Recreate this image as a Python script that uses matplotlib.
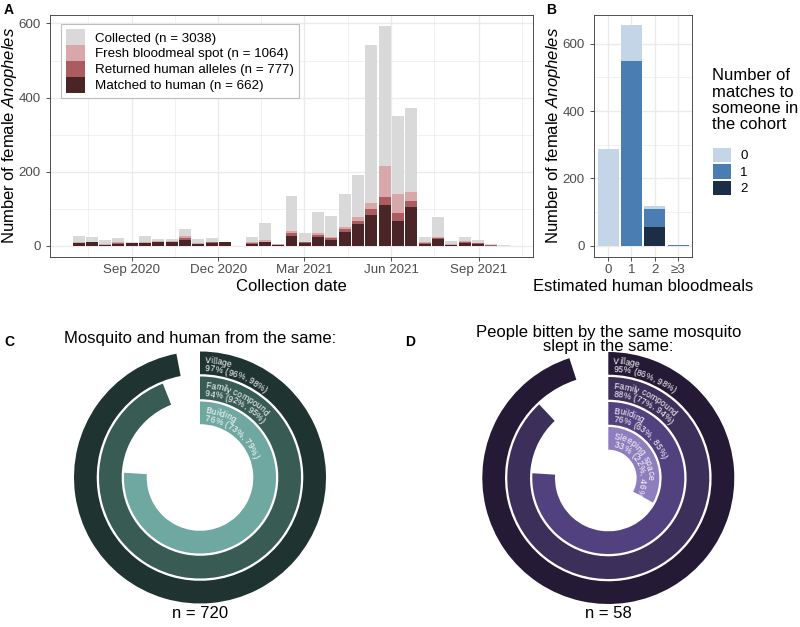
import numpy as np
import pandas as pd
import matplotlib
matplotlib.use("Agg")
import matplotlib.pyplot as plt
import matplotlib.dates as mdates
from matplotlib.patches import Patch, Wedge
from matplotlib.font_manager import FontProperties
from matplotlib.textpath import TextToPath

plt.rcParams['font.family'] = ['Liberation Sans', 'DejaVu Sans']
plt.rcParams['mathtext.fontset'] = 'custom'
plt.rcParams['mathtext.rm'] = 'Liberation Sans'
plt.rcParams['mathtext.it'] = 'Liberation Sans:italic'

# ---------------- data ----------------
# Panel A: two-week collection bins
bin_dates = pd.date_range("2020-07-07", periods=33, freq="14D")
collected = [26, 24, 15, 22, 10, 26, 19, 19, 46, 18, 21, 10, 0, 24, 62, 5, 134, 34, 92, 81, 139, 190,
             541, 594, 349, 371, 24, 78, 13, 23, 16, 4, 2]
fresh_spot = [10, 11, 4, 9, 8, 10, 13, 12, 27, 7, 11, 10, 0, 9, 15, 4, 41, 11, 35, 24, 51, 78,
              114, 215, 140, 145, 10, 24, 4, 12, 8, 2, 0]
returned_alleles = [8, 10, 3, 7, 7, 8, 11, 10, 22, 5, 9, 9, 0, 7, 11, 2, 33, 9, 29, 20, 44, 67,
                    98, 131, 88, 120, 7, 22, 2, 10, 6, 1, 0]
matched_human = [7, 9, 2, 5, 6, 7, 10, 9, 16, 4, 8, 9, 0, 5, 9, 1, 25, 6, 24, 16, 37, 58,
                 84, 110, 68, 104, 5, 17, 1, 6, 4, 0, 0]
series_labels_A = ["Collected (n = 3038)", "Fresh bloodmeal spot (n = 1064)",
                   "Returned human alleles (n = 777)", "Matched to human (n = 662)"]
date_ticks = ["2020-09-01", "2020-12-01", "2021-03-01", "2021-06-01", "2021-09-01"]

# Panel B
bloodmeal_cats = ["0", "1", "2", "\u22653"]
matches_0 = [286, 105, 7, 0]
matches_1 = [0, 549, 54, 3]
matches_2 = [0, 0, 56, 0]
match_labels = ["0", "1", "2"]
legend_title_B = "Number of\nmatches to\nsomeone in\nthe cohort"

# Panel C
c_title = "Mosquito and human from the same:"
c_levels = ["Village", "Family compound", "Building"]
c_pct = [97, 94, 76]
c_ci = [(96, 98), (92, 95), (73, 79)]
c_n = 720

# Panel D
d_title = ["People bitten by the same mosquito", "slept in the same:"]
d_levels = ["Village", "Family compound", "Building", "Sleeping space"]
d_pct = [95, 88, 76, 33]
d_ci = [(86, 98), (77, 94), (63, 85), (22, 46)]
d_n = 58

# ---------------- styles ----------------
colA = ["#D9D9D9", "#D7A7AA", "#AA5C5F", "#4B2426"]
colB = ["#C3D5E7", "#4A7EB3", "#1C2E45"]
colC = ["#1F3430", "#385B54", "#6EA8A0"]
colD = ["#241A35", "#3C2F5A", "#52417F", "#8E7EBE"]
GRID = "#EBEBEB"
BORDER = "#333333"
TICKTXT = "#4D4D4D"

W, H = 800, 627
fig = plt.figure(figsize=(W / 100, H / 100), dpi=100)
fig.patch.set_facecolor("white")


def ax_px(left, top, right, bottom):
    return fig.add_axes([left / W, 1 - bottom / H, (right - left) / W, (bottom - top) / H])


def style_bw(ax):
    ax.set_facecolor("white")
    for s in ax.spines.values():
        s.set_color(BORDER)
        s.set_linewidth(0.6)
    ax.tick_params(axis="both", colors=BORDER, labelcolor=TICKTXT, labelsize=9.6,
                   length=2.75, width=0.6)
    ax.tick_params(axis="x", pad=2.4)
    ax.tick_params(axis="y", pad=4)
    ax.tick_params(which="minor", length=0)
    ax.grid(True, which="major", color=GRID, lw=1.0)
    ax.grid(True, which="minor", color=GRID, lw=0.5)
    ax.set_axisbelow(True)


# ---------------- Panel A ----------------
A_L, A_T, A_R, A_B = 50, 14.7, 533, 256.7
axA = ax_px(A_L, A_T, A_R, A_B)
style_bw(axA)
xdates = mdates.date2num(bin_dates)
bw = 12.6
for vals, c in zip([collected, fresh_spot, returned_alleles, matched_human], colA):
    axA.bar(xdates, vals, width=bw, color=c, linewidth=0)
axA.set_xlim(mdates.date2num(pd.Timestamp("2020-06-07")), mdates.date2num(pd.Timestamp("2021-10-28")))
axA.set_ylim(-29.7, 623.7)
axA.set_yticks([0, 200, 400, 600])
axA.set_yticks([100, 300, 500], minor=True)
tick_dn = mdates.date2num(pd.to_datetime(date_ticks))
axA.set_xticks(tick_dn)
axA.set_xticklabels([pd.Timestamp(d).strftime("%b %Y") for d in date_ticks])
minor_dates = pd.to_datetime(["2020-07-17", "2020-10-16", "2021-01-15", "2021-04-16", "2021-07-16", "2021-10-16"])
axA.set_xticks(mdates.date2num(minor_dates), minor=True)
axA.set_xlabel("Collection date", fontsize=12, labelpad=2)
axA.set_ylabel(r"Number of female $\mathit{Anopheles}$", fontsize=12)
axA.yaxis.set_label_coords((19 - A_L) / (A_R - A_L), 0.5)
handlesA = [Patch(facecolor=c, edgecolor="none") for c in colA]
legA = axA.legend(handlesA, series_labels_A, loc="upper left",
                  bbox_to_anchor=(61 / W, 1 - 24 / H), bbox_transform=fig.transFigure,
                  borderaxespad=0, fontsize=9.6, handlelength=1.39, handleheight=1.45,
                  labelspacing=0.0, handletextpad=0.73, borderpad=0.4, fancybox=False,
                  framealpha=1)
legA.get_frame().set_edgecolor("#BDBDBD")
legA.get_frame().set_linewidth(0.8)

# ---------------- Panel B ----------------
B_L, B_T, B_R, B_B = 594, 14.7, 692, 256.7
axB = ax_px(B_L, B_T, B_R, B_B)
style_bw(axB)
xb = np.arange(len(bloodmeal_cats))
m0 = np.array(matches_0); m1 = np.array(matches_1); m2 = np.array(matches_2)
axB.bar(xb, m2, width=0.9, color=colB[2], linewidth=0)
axB.bar(xb, m1, bottom=m2, width=0.9, color=colB[1], linewidth=0)
axB.bar(xb, m0, bottom=m2 + m1, width=0.9, color=colB[0], linewidth=0)
axB.set_xlim(-0.6, 3.6)
axB.set_ylim(-32.7, 686)
axB.set_xticks(xb)
axB.set_xticklabels(bloodmeal_cats)
axB.set_yticks([0, 200, 400, 600])
axB.set_yticks([100, 300, 500], minor=True)
axB.set_xlabel("Estimated human bloodmeals", fontsize=12, labelpad=2)
axB.set_ylabel(r"Number of female $\mathit{Anopheles}$", fontsize=12)
axB.yaxis.set_label_coords((563 - B_L) / (B_R - B_L), 0.5)
fig.text(711.5 / W, 1 - 68.5 / H, legend_title_B, fontsize=12, ha="left", va="top",
         linespacing=1.09)
handlesB = [Patch(facecolor=c, edgecolor="none") for c in colB]
legB = axB.legend(handlesB, match_labels, loc="upper left",
                  bbox_to_anchor=(712.7 / W, 1 - 147.7 / H),
                  bbox_transform=fig.transFigure, borderaxespad=0, borderpad=0, frameon=False,
                  fontsize=9.6, handlelength=1.35, handleheight=1.31,
                  labelspacing=0.13, handletextpad=0.7)

# ---------------- Panels C & D ----------------
ttp = TextToPath()
PX_PER_PT = 100 / 72


def curved_text(ax, s, cx, cy, r, start_arc, fs, color="white"):
    prop = FontProperties(family="Liberation Sans", size=fs)
    for i, ch in enumerate(s):
        if ch == " ":
            continue
        w_pre = ttp.get_text_width_height_descent(s[:i], prop, ismath=False)[0] * PX_PER_PT if i else 0
        w_ch = ttp.get_text_width_height_descent(ch, prop, ismath=False)[0] * PX_PER_PT
        arc = start_arc + w_pre + w_ch / 2
        a = arc / r
        x = cx + r * np.sin(a)
        y = cy + r * np.cos(a)
        ax.text(x, y, ch, fontproperties=prop, color=color, ha="center", va="baseline",
                rotation=-np.degrees(a), rotation_mode="anchor")


def ring_panel(ax, cx, cy, levels, pct, ci, cols, R=126, unit=25, gap=2.3, fs=6.2):
    for j, (lev, p, (lo, hi), c) in enumerate(zip(levels, pct, ci, cols)):
        r_out = R - j * unit
        ax.add_patch(Wedge((cx, cy), r_out, 90 - p * 3.6, 90, width=unit - gap,
                           facecolor=c, edgecolor="none"))
        curved_text(ax, lev, cx, cy, r_out - 11.5, 5, fs)
        curved_text(ax, f"{p}% ({lo}%, {hi}%)", cx, cy, r_out - 19.5, 5, fs)


axC = ax_px(0, 320, 400, 627)
axC.set_xlim(0, 400); axC.set_ylim(0, 307); axC.axis("off")
ring_panel(axC, 200, 627 - 477.5, c_levels, c_pct, c_ci, colC)
axC.text(200, 627 - 343, c_title, fontsize=12, ha="center", va="baseline")
axC.text(200, 627 - 618, f"n = {c_n}", fontsize=12, ha="center", va="baseline")

axD = ax_px(400, 320, 800, 627)
axD.set_xlim(0, 400); axD.set_ylim(0, 307); axD.axis("off")
ring_panel(axD, 208.3, 627 - 478, d_levels, d_pct, d_ci, colD)
axD.text(208.3, 627 - 337, d_title[0], fontsize=12, ha="center", va="baseline")
axD.text(208.3, 627 - 350.5, d_title[1], fontsize=12, ha="center", va="baseline")
axD.text(208.3, 627 - 618.5, f"n = {d_n}", fontsize=12, ha="center", va="baseline")

# panel tags
for t, x, y in [("A", 3.5, 13.5), ("B", 546.5, 13.5), ("C", 4, 346), ("D", 405, 346)]:
    fig.text(x / W, 1 - y / H, t, fontsize=10, fontweight="bold", ha="left", va="baseline")

fig.savefig("out.png", dpi=100, facecolor="white")
